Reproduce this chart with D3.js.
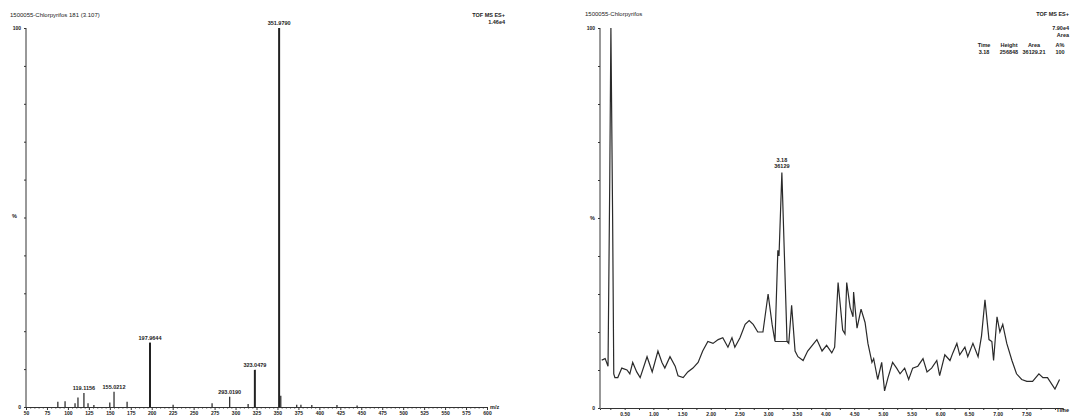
<!DOCTYPE html>
<html>
<head>
<meta charset="utf-8">
<script src="https://cdn.jsdelivr.net/npm/d3@7"></script>
<style>
  body { margin: 0; background: #fff; }
  svg { display: block; font-family: "Liberation Sans", Arial, sans-serif; }
  .axis text { font-size: 5px; font-weight: bold; fill: #222; }
  .axis path, .axis line { stroke: #333; }
  .lbl { font-size: 5.5px; font-weight: bold; fill: #222; }
  .ttl { font-size: 6px; fill: #222; }
</style>
</head>
<body>
<div id="chart"></div>
<script>
// ---- mass spectrum (left) ----
const specTitle = "1500055-Chlorpyrifos 181 (3.107)";
const specMz = [88, 96.6, 108.5, 112, 119.1156, 124, 131, 150, 155.0212, 170.6, 197.9644, 225.5, 272, 293.019, 315, 323.0479, 351.979, 353.98, 373, 378, 391, 421, 445];
const specInt = [1.4, 1.5, 1, 2.5, 3.7, 1, 0.5, 1.2, 4, 1.4, 17, 0.6, 1, 2.7, 0.8, 9.8, 100, 3, 0.6, 0.6, 0.5, 0.5, 0.4];
const specLabelled = ["119.1156", "155.0212", "197.9644", "293.0190", "323.0479", "351.9790"];
const mzTicks = d3.range(50, 601, 25);

// ---- chromatogram (right) ----
const chromTitle = "1500055-Chlorpyrifos";
const chromTime = [0.10, 0.16, 0.21, 0.24, 0.26, 0.29, 0.31, 0.33, 0.38, 0.45, 0.54, 0.59, 0.64, 0.71, 0.77, 0.89, 0.98, 1.08, 1.15, 1.20, 1.29, 1.38, 1.43, 1.52, 1.60, 1.69, 1.78, 1.86, 1.95, 2.04, 2.13, 2.21, 2.30, 2.37, 2.42, 2.51, 2.60, 2.67, 2.74, 2.82, 2.91, 3.00, 3.07, 3.12, 3.17, 3.19, 3.24, 3.33, 3.36, 3.41, 3.47, 3.52, 3.61, 3.69, 3.85, 3.94, 4.02, 4.11, 4.16, 4.22, 4.30, 4.34, 4.37, 4.43, 4.48, 4.49, 4.55, 4.62, 4.69, 4.74, 4.81, 4.84, 4.91, 4.98, 5.03, 5.09, 5.17, 5.24, 5.30, 5.38, 5.45, 5.52, 5.61, 5.70, 5.77, 5.85, 5.94, 5.99, 6.08, 6.17, 6.22, 6.29, 6.34, 6.43, 6.48, 6.57, 6.66, 6.72, 6.78, 6.85, 6.90, 6.93, 6.99, 7.04, 7.09, 7.16, 7.25, 7.33, 7.42, 7.51, 7.61, 7.72, 7.79, 7.87, 8.00, 8.08];
const chromInt = [12.6, 13, 11, 60, 100, 50, 9, 8, 8, 10.5, 10, 9, 12, 9.5, 8, 13.5, 9.5, 15, 12, 10.5, 13.5, 11, 8.5, 8, 9.5, 10.5, 12, 15, 17.5, 17, 18, 18.5, 16, 18.5, 16, 18.5, 22, 23, 22, 20, 20, 30, 22, 17.5, 41.5, 40, 62, 17.5, 17, 27, 15, 13.5, 12.5, 15, 18, 15, 16.5, 14.5, 16, 33, 20.5, 19.5, 33, 26.5, 24, 30.5, 21, 26, 22.5, 17, 12, 13, 7.5, 12, 4.5, 8, 12, 10.5, 9, 10.5, 7.5, 10.5, 11, 13, 9.5, 10.5, 12.5, 8.5, 14, 12.5, 14.5, 17, 14, 16, 13.5, 17, 13.5, 19, 28.5, 18, 17.5, 12.5, 24, 20, 22, 17, 12.5, 9, 7.5, 7, 7, 9, 8, 8, 5, 7.5];
const peakTime = 3.24, peakIntensity = 62;
const peakLabel = ["3.18", "36129"];
const integStart = 3.12, integEnd = 3.36, integLevel = 17.5;
const timeTicks = [0.5, 1.0, 1.5, 2.0, 2.5, 3.0, 3.5, 4.0, 4.5, 5.0, 5.5, 6.0, 6.5, 7.0, 7.5];
const tableHead = ["Time", "Height", "Area", "A%"];
const tableRow = ["3.18", "256848", "36129.21", "100"];

const svg = d3.select("#chart").append("svg")
    .attr("width", 1071)
    .attr("height", 418);

const pct = [0, 10, 20, 30, 40, 50, 60, 70, 80, 90, 100];

// ---------- left panel ----------
const xs = d3.scaleLinear().domain([50, 600]).range([26, 487]);
const ys = d3.scaleLinear().domain([0, 100]).range([407, 28]);

svg.append("g")
    .attr("class", "axis")
    .attr("transform", `translate(0,${ys(0)})`)
    .call(d3.axisBottom(xs).tickValues(d3.range(50, 601, 5)).tickSize(2)
        .tickFormat(d => mzTicks.includes(d) ? d : ""))
    .call(g => g.selectAll(".tick line").attr("y2", d => mzTicks.includes(d) ? 3 : 1.5))
    .call(g => g.selectAll(".tick text").attr("dy", "0.6em"));

svg.append("g")
    .attr("class", "axis")
    .attr("transform", `translate(${xs(50)},0)`)
    .call(d3.axisLeft(ys).tickValues(pct).tickSize(2)
        .tickFormat(d => d === 0 || d === 100 ? d : ""))
    .call(g => g.select(".domain").attr("d", `M0,${ys(0)}V${ys(100)}`));

svg.selectAll(".spec")
    .data(specMz.map((m, i) => ({mz: m, v: specInt[i]})))
    .enter().append("line")
    .attr("x1", d => xs(d.mz)).attr("x2", d => xs(d.mz))
    .attr("y1", ys(0)).attr("y2", d => ys(d.v))
    .attr("stroke", "#222")
    .attr("stroke-width", d => d.v > 5 ? 2 : 1.2);

svg.selectAll(".specLbl")
    .data(specMz.map((m, i) => ({mz: m, v: specInt[i]})).filter(d => specLabelled.includes(d3.format(".4f")(d.mz))))
    .enter().append("text")
    .attr("class", "lbl")
    .attr("x", d => xs(d.mz))
    .attr("y", d => ys(d.v) - 3)
    .attr("text-anchor", "middle")
    .text(d => d3.format(".4f")(d.mz));

svg.append("text").attr("class", "ttl").attr("x", 10).attr("y", 17).text(specTitle);
svg.append("text").attr("class", "lbl").attr("x", 505).attr("y", 17).attr("text-anchor", "end").text("TOF MS ES+");
svg.append("text").attr("class", "lbl").attr("x", 505).attr("y", 24).attr("text-anchor", "end").text("1.46e4");
svg.append("text").attr("class", "lbl").attr("x", 12).attr("y", 218).text("%");
svg.append("text").attr("class", "lbl").attr("x", 490).attr("y", 409).text("m/z");

// ---------- right panel ----------
const xt = d3.scaleLinear().domain([0.07, 8.14]).range([600, 1063]);
const yt = d3.scaleLinear().domain([0, 100]).range([408, 28]);

svg.append("g")
    .attr("class", "axis")
    .attr("transform", `translate(0,${yt(0)})`)
    .call(d3.axisBottom(xt).tickValues(d3.range(0.25, 8.01, 0.25)).tickSize(2)
        .tickFormat(d => timeTicks.some(t => Math.abs(t - d) < 1e-6) ? d3.format(".2f")(d) : ""))
    .call(g => g.selectAll(".tick text").attr("dy", "0.6em"));

svg.append("g")
    .attr("class", "axis")
    .attr("transform", `translate(${xt(0.07)},0)`)
    .call(d3.axisLeft(yt).tickValues(pct).tickSize(2)
        .tickFormat(d => d === 0 || d === 100 ? d : ""))
    .call(g => g.select(".domain").attr("d", `M0,${yt(0)}V${yt(100)}`));

const line = d3.line().x(d => xt(d.t)).y(d => yt(d.v));
svg.append("path")
    .datum(chromTime.map((t, i) => ({t: t, v: chromInt[i]})))
    .attr("d", line)
    .attr("fill", "none")
    .attr("stroke", "#2a2a2a")
    .attr("stroke-width", 1.2);

svg.append("line")
    .attr("x1", xt(integStart)).attr("x2", xt(integEnd))
    .attr("y1", yt(integLevel)).attr("y2", yt(integLevel))
    .attr("stroke", "#333").attr("stroke-width", 1);

svg.selectAll(".pkLbl")
    .data(peakLabel)
    .enter().append("text")
    .attr("class", "lbl")
    .attr("x", xt(peakTime))
    .attr("y", (d, i) => yt(peakIntensity) - 10 + i * 6)
    .attr("text-anchor", "middle")
    .text(d => d);

svg.append("text").attr("class", "ttl").attr("x", 585).attr("y", 16).text(chromTitle);
svg.append("text").attr("class", "lbl").attr("x", 1069).attr("y", 16).attr("text-anchor", "end").text("TOF MS ES+");
svg.append("text").attr("class", "lbl").attr("x", 1069).attr("y", 30).attr("text-anchor", "end").text("7.90e4");
svg.append("text").attr("class", "lbl").attr("x", 1069).attr("y", 37).attr("text-anchor", "end").text("Area");
const colX = [984, 1009, 1034, 1060];
tableHead.forEach((h, i) => {
    svg.append("text").attr("class", "lbl").attr("x", colX[i]).attr("y", 47).attr("text-anchor", "middle").text(h);
    svg.append("text").attr("class", "lbl").attr("x", colX[i]).attr("y", 54).attr("text-anchor", "middle").text(tableRow[i]);
});
svg.append("text").attr("class", "lbl").attr("x", 590).attr("y", 220).text("%");
svg.append("text").attr("class", "lbl").attr("x", 1069).attr("y", 412).attr("text-anchor", "end").text("Time");
</script>
</body>
</html>
